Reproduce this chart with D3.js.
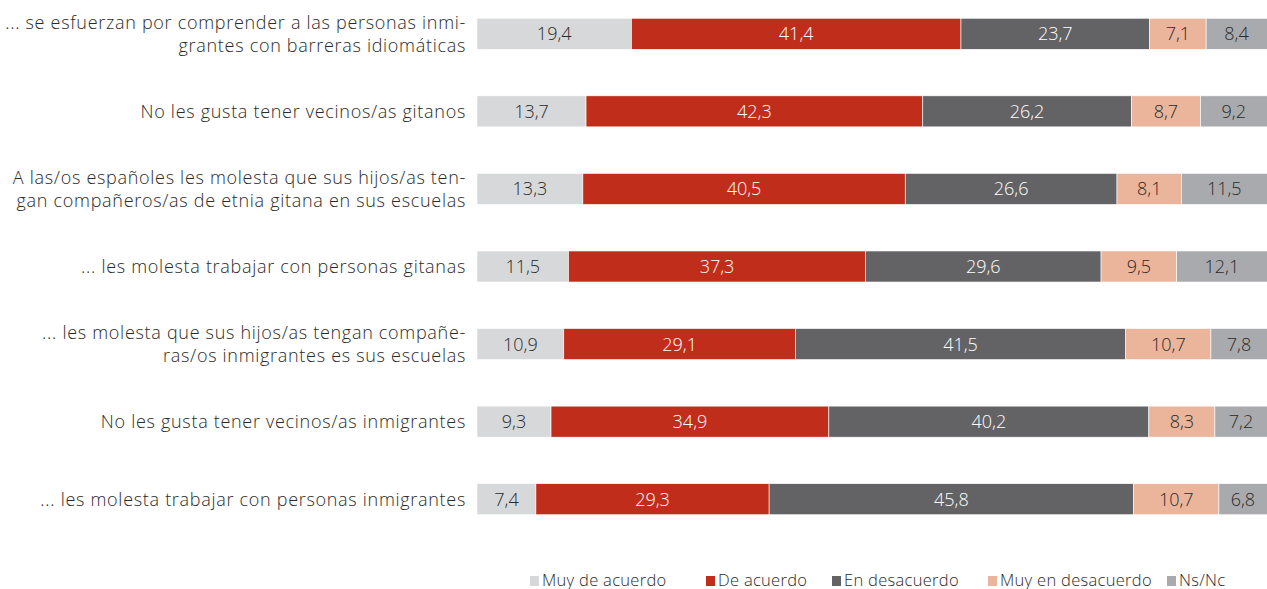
<!DOCTYPE html>
<html>
<head>
<meta charset="utf-8">
<script src="https://cdn.jsdelivr.net/npm/d3@7"></script>
<style>
  body { margin: 0; background: #fff; overflow: hidden; }
  svg text { font-family: "Open Sans", Lato, sans-serif; font-weight: 300; }
</style>
</head>
<body>
<div class="container"></div>
<script>
// DATA
const categories = [
  ["... se esfuerzan por comprender a las personas inmi-", "grantes con barreras idiomáticas"],
  ["No les gusta tener vecinos/as gitanos"],
  ["A las/os españoles les molesta que sus hijos/as ten-", "gan compañeros/as de etnia gitana en sus escuelas"],
  ["... les molesta trabajar con personas gitanas"],
  ["... les molesta que sus hijos/as tengan compañe-", "ras/os inmigrantes es sus escuelas"],
  ["No les gusta tener vecinos/as inmigrantes"],
  ["... les molesta trabajar con personas inmigrantes"]
];
const seriesNames = ["Muy de acuerdo", "De acuerdo", "En desacuerdo", "Muy en desacuerdo", "Ns/Nc"];
const muyDeAcuerdo = [19.4, 13.7, 13.3, 11.5, 10.9, 9.3, 7.4];
const deAcuerdo = [41.4, 42.3, 40.5, 37.3, 29.1, 34.9, 29.3];
const enDesacuerdo = [23.7, 26.2, 26.6, 29.6, 41.5, 40.2, 45.8];
const muyEnDesacuerdo = [7.1, 8.7, 8.1, 9.5, 10.7, 8.3, 10.7];
const nsNc = [8.4, 9.2, 11.5, 12.1, 7.8, 7.2, 6.8];

const colors = ["#d7d8da", "#c02e1b", "#636366", "#eab59b", "#a9aaad"];
const labelColors = ["#2a2a2a", "#fff", "#fff", "#2a2a2a", "#2a2a2a"];

// SETUP
const width = 1267;
const height = 589;

const rows = categories.map((c, i) => ({
  lines: c,
  values: [muyDeAcuerdo[i], deAcuerdo[i], enDesacuerdo[i], muyEnDesacuerdo[i], nsNc[i]]
}));

const xScale = d3.scaleLinear().domain([0, 100]).range([477, 1273]);
const yScale = d3.scaleBand()
  .domain(d3.range(rows.length))
  .range([-5, 538])
  .paddingInner(0.6)
  .paddingOuter(0.3);

const svg = d3.select(".container")
  .append("svg")
  .attr("width", width)
  .attr("height", height);

const stack = d3.stack().keys(d3.range(seriesNames.length))
  .value((d, k) => d.values[k]);
const layers = stack(rows);

const g = svg.selectAll("g.layer")
  .data(layers)
  .enter()
  .append("g")
  .attr("class", "layer");

g.selectAll("rect")
  .data((layer) => layer.map((d, i) => ({ d, i, k: layer.key })))
  .enter()
  .append("rect")
  .attr("x", (e) => xScale(e.d[0]))
  .attr("y", (e) => yScale(e.i))
  .attr("width", (e) => xScale(e.d[1]) - xScale(e.d[0]))
  .attr("height", yScale.bandwidth())
  .attr("fill", (e) => colors[e.k])
  .attr("stroke", "#fff")
  .attr("stroke-width", 0.6);

g.selectAll("text")
  .data((layer) => layer.map((d, i) => ({ d, i, k: layer.key })))
  .enter()
  .append("text")
  .attr("x", (e) => (xScale(e.d[0]) + Math.min(xScale(e.d[1]), width)) / 2)
  .attr("y", (e) => yScale(e.i) + yScale.bandwidth() / 2)
  .attr("dy", "0.36em")
  .attr("text-anchor", "middle")
  .attr("font-size", 18)
  .attr("fill", (e) => labelColors[e.k])
  .text((e) => (e.d[1] - e.d[0]).toFixed(1).replace(".", ","));

// category labels
const labels = svg.selectAll("text.cat")
  .data(rows)
  .enter()
  .append("text")
  .attr("class", "cat")
  .attr("text-anchor", "end")
  .attr("font-size", 18)
  .attr("letter-spacing", 0.7)
  .attr("fill", "#2a2a2a")
  .attr("y", (d, i) => yScale(i) + yScale.bandwidth() / 2 - (d.lines.length - 1) * 11.5);

labels.selectAll("tspan")
  .data((d) => d.lines)
  .enter()
  .append("tspan")
  .attr("x", 466)
  .attr("dy", (l, j) => j === 0 ? "0.36em" : 23)
  .text((l) => l);

// legend
const legendX = [530, 706, 832, 988, 1167];
const legend = svg.selectAll("g.legend")
  .data(seriesNames)
  .enter()
  .append("g")
  .attr("class", "legend")
  .attr("transform", (d, i) => `translate(${legendX[i]},579)`);

legend.append("rect")
  .attr("x", 0)
  .attr("y", -3)
  .attr("width", 9)
  .attr("height", 10)
  .attr("fill", (d, i) => colors[i]);

legend.append("text")
  .attr("x", 12)
  .attr("y", 1)
  .attr("dy", "0.36em")
  .attr("font-size", 16.5)
  .attr("letter-spacing", 0.3)
  .attr("fill", "#2a2a2a")
  .text((d) => d);
</script>
</body>
</html>
